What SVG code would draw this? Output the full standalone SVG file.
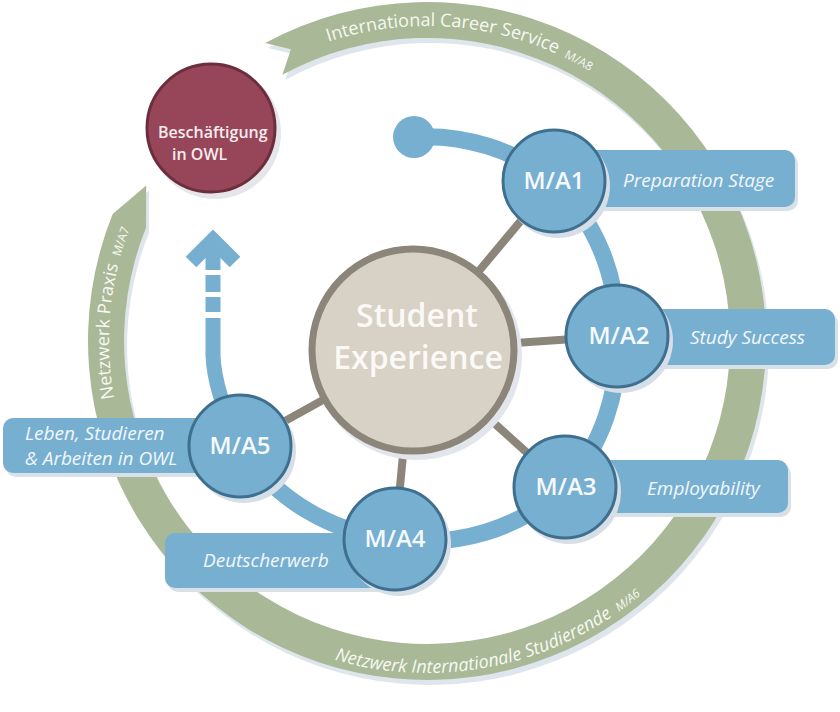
<svg xmlns="http://www.w3.org/2000/svg" width="840" height="712" viewBox="0 0 840 712">
<defs>
<style>
.band{fill:#a9b896}
.bandsh{fill:#dfe5ec}
.bt{font-family:'Open Sans','Liberation Sans',sans-serif;font-size:18px;fill:#f6f8f2}
.sm{font-size:12px}
.spoke{stroke:#8b857a;stroke-width:8;fill:none}
.ring{stroke:#77afd1;stroke-width:17;fill:none}
.blue{fill:#77afd1}
.bx{fill:#77afd1}
.bxsh{fill:#d8e0e8}
.lt{font-family:'Open Sans','Liberation Sans',sans-serif;font-size:19px;font-style:italic;fill:#f2f7fb}
.node{fill:#77afd1;stroke:#3f6f8e;stroke-width:3}
.nsh{fill:#d6dee7}
.nt{font-family:'Open Sans','Liberation Sans',sans-serif;font-size:24px;font-weight:600;fill:#f5f9fc;text-anchor:middle}
.arr{stroke:#77afd1;stroke-width:15;fill:none}
</style>
<path id="pTop" d="M 293.9 55.5 A 315 315 0 0 1 668.3 138.5"/>
<path id="pBot" d="M 261 628.5 A 332 332 0 0 0 681.3 554.4"/>
<path id="pLeft" d="M 138.8 475.4 A 318 318 0 0 1 222.6 97.4"/>
</defs>
<rect width="840" height="712" fill="#ffffff"/>

<g id="ring-band">
<path class="bandsh" transform="translate(3,5)" d="M 265.2 43.1 A 339 339 0 1 1 112.7 214 L 146.2 185.4 L 146.1 227.5 A 303 303 0 1 0 282.4 74.7 L 290.9 49.2 Z"/>
<path class="band" d="M 265.2 43.1 A 339 339 0 1 1 112.7 214 L 146.2 185.4 L 146.1 227.5 A 303 303 0 1 0 282.4 74.7 L 290.9 49.2 Z"/>
<text class="bt"><textPath href="#pTop" startOffset="37">International Career Service<tspan class="sm" dx="8">M/A8</tspan></textPath></text>
<text class="bt" font-style="italic" font-size="18.5"><textPath href="#pBot" startOffset="80">Netzwerk Internationale Studierende<tspan class="sm" dx="8">M/A6</tspan></textPath></text>
<text class="bt"><textPath href="#pLeft" startOffset="81">Netzwerk Praxis<tspan class="sm" dx="8">M/A7</tspan></textPath></text>
</g>

<g id="connectors">
<line class="spoke" x1="413" y1="350" x2="554" y2="181"/>
<line class="spoke" x1="413" y1="350" x2="617" y2="336"/>
<line class="spoke" x1="413" y1="350" x2="565" y2="487"/>
<line class="spoke" x1="413" y1="350" x2="395" y2="539"/>
<line class="spoke" x1="413" y1="350" x2="240" y2="446"/>
<path class="ring" d="M 414 137 A 207 207 0 0 1 554 181 A 207 207 0 0 1 617 336 A 207 207 0 0 1 565 487 A 207 207 0 0 1 395 539 A 207 207 0 0 1 240 446"/>
<path class="arr" d="M 240 446 Q 214 390 213 355 L 213 318"/>
<line class="arr" x1="213" y1="297" x2="213" y2="312"/>
<line class="arr" x1="213" y1="275" x2="213" y2="292"/>
<line class="arr" x1="213" y1="244" x2="213" y2="270"/>
<polyline class="arr" stroke-linejoin="miter" points="191,262 213,240 235,262"/>
<circle class="blue" cx="414" cy="137" r="21"/>
</g>

<g id="label-prep">
<rect class="bxsh" x="563" y="154" width="235" height="57" rx="10"/>
<rect class="bx" x="560" y="150" width="235" height="57" rx="10"/>
<text class="lt" x="623" y="187">Preparation Stage</text>
</g>
<g id="label-study">
<rect class="bxsh" x="623" y="313" width="215" height="56" rx="10"/>
<rect class="bx" x="620" y="309" width="215" height="56" rx="10"/>
<text class="lt" x="690" y="344">Study Success</text>
</g>
<g id="label-employ">
<rect class="bxsh" x="573" y="464" width="218" height="53" rx="10"/>
<rect class="bx" x="570" y="460" width="218" height="53" rx="10"/>
<text class="lt" x="647" y="495">Employability</text>
</g>
<g id="label-leben">
<rect class="bxsh" x="6" y="422" width="236" height="55" rx="10"/>
<rect class="bx" x="3" y="418" width="236" height="55" rx="10"/>
<text class="lt" font-size="17.5" x="25" y="440">Leben, Studieren</text>
<text class="lt" font-size="17.5" x="25" y="465">&amp; Arbeiten in OWL</text>
</g>
<g id="label-deutsch">
<rect class="bxsh" x="168" y="537" width="230" height="55" rx="10"/>
<rect class="bx" x="165" y="533" width="230" height="55" rx="10"/>
<text class="lt" x="203" y="567">Deutscherwerb</text>
</g>

<g id="node-ma1">
<circle class="nsh" cx="558" cy="186" r="52"/>
<circle class="node" cx="554" cy="181" r="51"/>
<text class="nt" x="554" y="189">M/A1</text>
</g>
<g id="node-ma2">
<circle class="nsh" cx="621" cy="341" r="52"/>
<circle class="node" cx="617" cy="336" r="51"/>
<text class="nt" x="619" y="344">M/A2</text>
</g>
<g id="node-ma3">
<circle class="nsh" cx="569" cy="492" r="52"/>
<circle class="node" cx="565" cy="487" r="51"/>
<text class="nt" x="566" y="495">M/A3</text>
</g>
<g id="node-ma4">
<circle class="nsh" cx="399" cy="544" r="52"/>
<circle class="node" cx="395" cy="539" r="51"/>
<text class="nt" x="395" y="547">M/A4</text>
</g>
<g id="node-ma5">
<circle class="nsh" cx="244" cy="451" r="52"/>
<circle class="node" cx="240" cy="446" r="51"/>
<text class="nt" x="240" y="454">M/A5</text>
</g>

<g id="node-student">
<circle cx="417" cy="355" r="105" fill="#e2e6ec"/>
<circle cx="413" cy="350" r="101" fill="#d8d1c5" stroke="#8b857a" stroke-width="7"/>
<text font-family="'Open Sans','Liberation Sans',sans-serif" font-size="32" font-weight="600" fill="#fbf9f5" text-anchor="middle"><tspan x="417" y="327">Student</tspan><tspan x="418" y="369">Experience</tspan></text>
</g>

<g id="node-beschaeftigung">
<circle cx="215" cy="133" r="66" fill="#e4e6ea"/>
<circle cx="211" cy="128" r="64" fill="#974659" stroke="#6c2d3c" stroke-width="3"/>
<text font-family="'Open Sans','Liberation Sans',sans-serif" font-size="16" font-weight="600" fill="#f6ecef"><tspan x="158" y="138">Beschäftigung</tspan><tspan x="172" y="160">in OWL</tspan></text>
</g>
</svg>
